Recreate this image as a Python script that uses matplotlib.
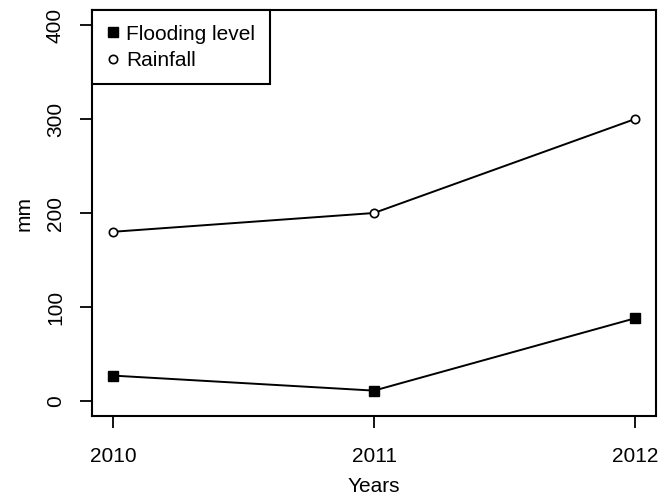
import matplotlib
matplotlib.use("Agg")
import matplotlib.pyplot as plt

plt.rcParams['font.family'] = ['Liberation Sans', 'DejaVu Sans']

# Data
years = [2010, 2011, 2012]
flooding_level = [27, 11, 88]
rainfall = [180, 200, 300]
y_ticks = [0, 100, 200, 300, 400]

fig = plt.figure(figsize=(6.64, 4.98), dpi=100)
ax = fig.add_axes([92/664, 82/498, 564/664, 406/498])

ax.plot(years, flooding_level, color='black', lw=1.4, marker='s', ms=7,
        mfc='black', mec='black', label='Flooding level')
ax.plot(years, rainfall, color='black', lw=1.4, marker='o', ms=6,
        mfc='white', mec='black', mew=1.2, label='Rainfall')

ax.set_xlim(2009.92, 2012.08)
ax.set_ylim(-16, 416)
ax.set_xticks(years)
ax.set_xticklabels([str(y) for y in years])
ax.set_yticks(y_ticks)
ax.set_yticklabels([str(v) for v in y_ticks], rotation=90, va='center')

for s in ax.spines.values():
    s.set_linewidth(1.5)
ax.tick_params(axis='both', direction='out', length=8.5, width=1.3,
               labelsize=15)
ax.tick_params(axis='x', pad=14)
ax.tick_params(axis='y', pad=11)

ax.set_xlabel('Years', fontsize=15, labelpad=8)
ax.set_ylabel('mm', fontsize=15, labelpad=9)

leg = ax.legend(loc='upper left', bbox_to_anchor=(0, 1), borderaxespad=0,
                fontsize=15, frameon=True, fancybox=False, edgecolor='black',
                framealpha=1, handlelength=0.6, handletextpad=0.35,
                borderpad=0.7, labelspacing=0.35, numpoints=1)
leg.get_frame().set_linewidth(1.5)
for h in leg.legend_handles:
    h.set_linestyle('None')

fig.savefig('out.png', dpi=100)
